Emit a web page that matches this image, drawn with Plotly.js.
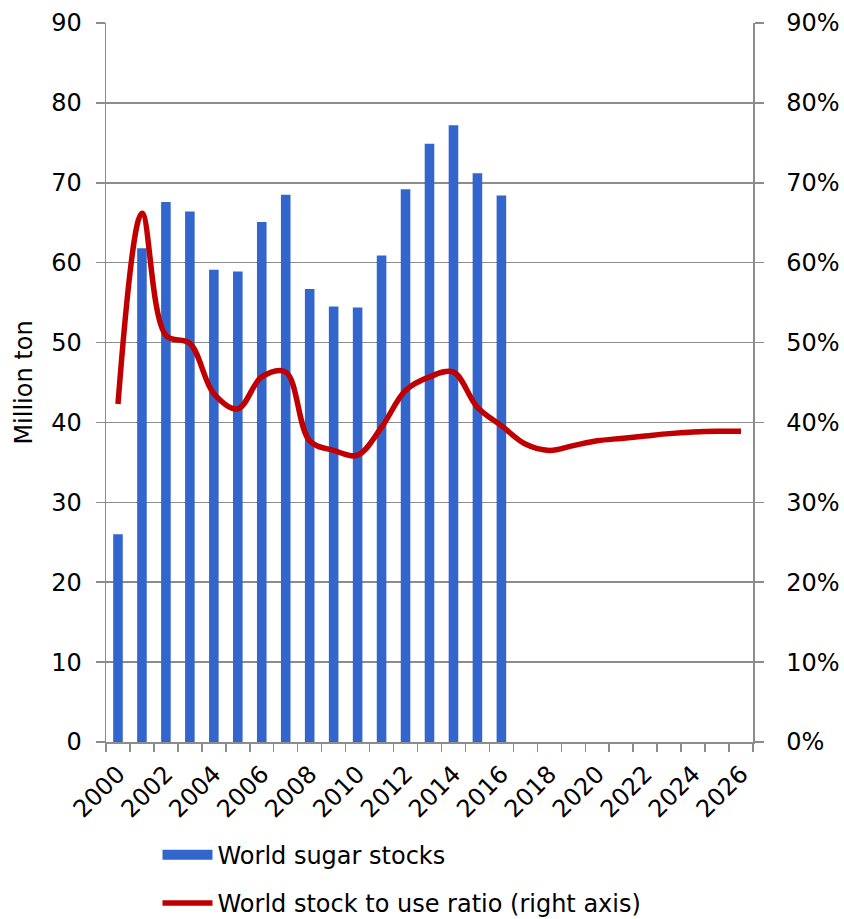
<!DOCTYPE html>
<html>
<head>
<meta charset="utf-8">
<script src="https://cdn.plot.ly/plotly-3.0.1.min.js"></script>
<style>html,body{margin:0;padding:0;background:#fff;}#chart{width:844px;height:919px;}</style>
</head>
<body>
<div id="chart"></div>
<script>
const years = ["2000","2001","2002","2003","2004","2005","2006","2007","2008","2009","2010","2011","2012","2013","2014","2015","2016","2017","2018","2019","2020","2021","2022","2023","2024","2025","2026"];
const stockYears = years.slice(0, 17);
const sugarStocks = [26.0, 61.8, 67.6, 66.4, 59.1, 58.9, 65.1, 68.5, 56.7, 54.5, 54.4, 60.9, 69.2, 74.9, 77.2, 71.2, 68.4];
const stockToUse = [0.423, 0.662, 0.509, 0.499, 0.436, 0.417, 0.457, 0.463, 0.377, 0.365, 0.359, 0.394, 0.440, 0.457, 0.463, 0.419, 0.396, 0.373, 0.365, 0.371, 0.377, 0.380, 0.383, 0.386, 0.388, 0.389, 0.389];
const tickLabels = years.map((y, i) => (i % 2 === 0 ? y : ""));
const leftTicks = [0, 10, 20, 30, 40, 50, 60, 70, 80, 90];
const rightTicks = [0, 0.1, 0.2, 0.3, 0.4, 0.5, 0.6, 0.7, 0.8, 0.9];

const font = "DejaVu Sans, Verdana, sans-serif";
const grid = "#8c8c8c";
const blue = "#3366CC";
const red = "#C00000";

const traces = [
  {
    type: "bar", x: stockYears, y: sugarStocks, name: "World sugar stocks",
    marker: {color: blue}, showlegend: false, yaxis: "y"
  },
  {
    // legend entry for the bars (wide rectangle swatch like the original)
    type: "scatter", mode: "lines", x: [null], y: [null],
    name: "World sugar stocks", line: {color: blue, width: 15},
    legendgroup: "a", yaxis: "y"
  },
  {
    type: "scatter", mode: "lines", x: years, y: stockToUse,
    name: "World stock to use ratio (right axis)",
    line: {color: red, width: 5.5, shape: "spline", smoothing: 1},
    legendgroup: "b", yaxis: "y2"
  }
];

const layout = {
  width: 844, height: 919,
  margin: {l: 106, r: 91, t: 23, b: 177},
  paper_bgcolor: "#fff", plot_bgcolor: "#fff",
  font: {family: font, size: 24, color: "#000"},
  bargap: 0.6,
  showlegend: true,
  legend: {
    orientation: "v", x: 0.0796, xanchor: "left", y: 0.094, yanchor: "top",
    yref: "container", tracegroupgap: 14, font: {size: 24, family: font},
    itemwidth: 50
  },
  xaxis: {
    type: "category", categoryorder: "array", categoryarray: years,
    range: [-0.5, 26.5],
    tickmode: "array", tickvals: years, ticktext: tickLabels,
    tickangle: -45, ticks: "outside", tickson: "boundaries", ticklen: 8,
    tickcolor: grid, tickwidth: 1.5, ticklabelstandoff: 7,
    showline: true, linecolor: grid, linewidth: 1.5,
    showgrid: false, tickfont: {size: 24}
  },
  yaxis: {
    range: [0, 90], tickmode: "array", tickvals: leftTicks,
    ticks: "outside", ticklen: 9, tickcolor: grid, tickwidth: 1.5,
    ticklabelstandoff: 9,
    showline: true, linecolor: grid, linewidth: 1.5,
    showgrid: true, gridcolor: grid, gridwidth: 1.5, zeroline: false,
    tickfont: {size: 24},
    title: {text: "Million ton", font: {size: 24}, standoff: 12}
  },
  yaxis2: {
    overlaying: "y", side: "right", range: [0, 0.9],
    tickmode: "array", tickvals: rightTicks, tickformat: ".0%",
    ticks: "outside", ticklen: 9, tickcolor: grid, tickwidth: 1.5,
    ticklabelstandoff: 18,
    showline: true, linecolor: grid, linewidth: 1.5,
    showgrid: false, zeroline: false, tickfont: {size: 24}
  }
};

Plotly.newPlot("chart", traces, layout, {displayModeBar: false, staticPlot: true});
</script>
</body>
</html>
